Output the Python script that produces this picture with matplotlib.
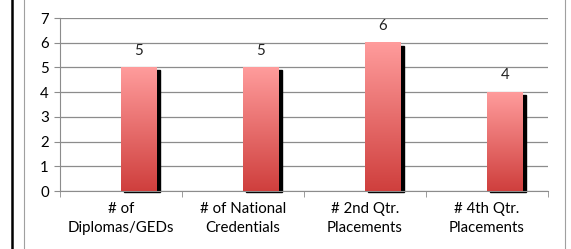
import numpy as np
import matplotlib.pyplot as plt
from matplotlib.lines import Line2D
from matplotlib.patches import Rectangle

categories = ["# of\nDiplomas/GEDs", "# of National\nCredentials", "# 2nd Qtr.\nPlacements", "# 4th Qtr.\nPlacements"]
values = [5, 5, 6, 4]

plt.rcParams['font.family'] = ['Lato', 'DejaVu Sans']

fig = plt.figure(figsize=(5.71, 2.49), dpi=100)
ax = fig.add_axes([60 / 571, 1 - 191 / 249, 488 / 571, 173 / 249])

x = np.arange(len(values))
bar_w = 0.295
grad = np.linspace(0, 1, 256).reshape(-1, 1)
cmap = plt.matplotlib.colors.LinearSegmentedColormap.from_list("rb", ["#cf3f3d", "#ff9c9c"])

px_x = 1 / 122.0
px_y = 7 / 173.0
for xi, v in zip(x, values):
    # shadow
    ax.add_patch(Rectangle((xi + 3 * px_x, -1 * px_y), bar_w, v - 2 * px_y, color="black",
                           zorder=2, clip_on=False))
    ax.imshow(grad, extent=[xi, xi + bar_w, 0, v], origin="lower", cmap=cmap,
              aspect="auto", zorder=3)
    ax.text(xi + bar_w / 2, v + 0.4, str(v), ha="center", va="bottom", fontsize=10.8, color="#222222")

ax.set_xlim(-0.5, 3.5)
ax.set_ylim(0, 7)
ax.set_yticks(range(8))
ax.yaxis.grid(True, color="#8c8c8c", linewidth=0.9)
ax.set_axisbelow(True)
ax.set_xticks(x)
ax.set_xticklabels(categories, fontsize=10.8, linespacing=1.45)
ax.tick_params(axis="x", length=0, pad=8)
ax.set_xticks([-0.5, 0.5, 1.5, 2.5, 3.5], minor=True)
ax.tick_params(axis="x", which="minor", length=4, color="#8c8c8c")
ax.tick_params(axis="y", length=4, color="#8c8c8c", labelsize=10.8, pad=4)
for s in ["top", "right"]:
    ax.spines[s].set_visible(False)
for s in ["left", "bottom"]:
    ax.spines[s].set_color("#8c8c8c")

fig.add_artist(Line2D([12 / 571, 12 / 571], [0, 1], color="black", linewidth=1.8))
fig.add_artist(Line2D([24 / 571, 24 / 571], [0, 1], color="#a0a0a0", linewidth=0.8))
fig.add_artist(Line2D([565 / 571, 565 / 571], [0, 1], color="#a0a0a0", linewidth=0.8))

fig.savefig("out.png", dpi=100)
